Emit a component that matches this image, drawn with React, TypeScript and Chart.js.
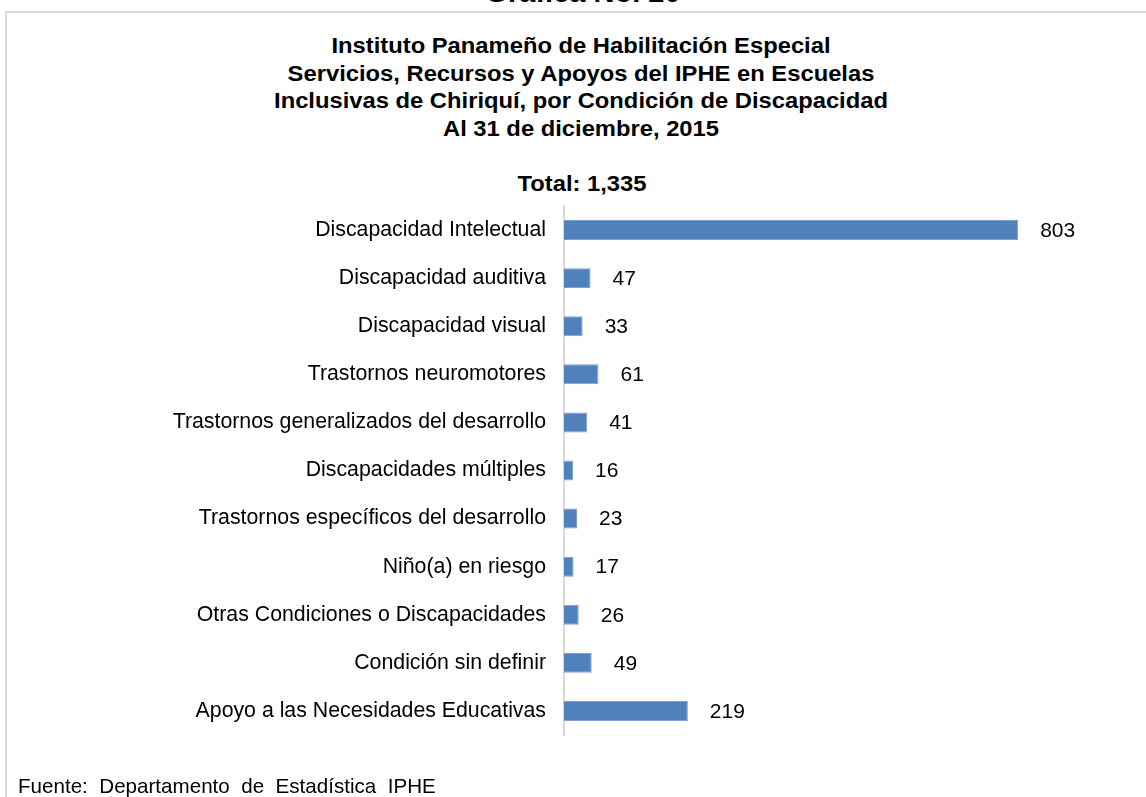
import React, { useEffect, useRef } from "react";
import { Chart, registerables } from "chart.js";
Chart.register(...registerables);

const header = "Gráfica No. 20";
const titleLines = [
  "Instituto Panameño de Habilitación Especial",
  "Servicios, Recursos y Apoyos del IPHE en Escuelas",
  "Inclusivas de Chiriquí, por Condición de Discapacidad",
  "Al 31 de diciembre, 2015",
];
const totalLabel = "Total: 1,335";
const sourceNote = "Fuente:  Departamento  de  Estadística  IPHE";

const categories = [
  "Discapacidad Intelectual",
  "Discapacidad auditiva",
  "Discapacidad visual",
  "Trastornos neuromotores",
  "Trastornos generalizados del desarrollo",
  "Discapacidades múltiples",
  "Trastornos específicos del desarrollo",
  "Niño(a) en riesgo",
  "Otras Condiciones o Discapacidades",
  "Condición sin definir",
  "Apoyo a las Necesidades Educativas",
];
const values = [803, 47, 33, 61, 41, 16, 23, 17, 26, 49, 219];
const xMin = 0;
const xMax = 900;

const FONT = "'Liberation Sans', Arial, sans-serif";

export default function App() {
  const ref = useRef<HTMLCanvasElement | null>(null);
  useEffect(() => {
    if (!ref.current) return;
    const valueLabels = {
      id: "valueLabels",
      afterDatasetsDraw(chart: any) {
        const ctx = chart.ctx;
        const meta = chart.getDatasetMeta(0);
        ctx.save();
        ctx.fillStyle = "#000";
        ctx.font = `21px ${FONT}`;
        ctx.textAlign = "left";
        ctx.textBaseline = "middle";
        meta.data.forEach((bar: any, i: number) => {
          ctx.fillText(String(chart.data.datasets[0].data[i]), bar.x + 22, bar.y + 1);
        });
        ctx.restore();
      },
    };
    const chart = new Chart(ref.current, {
      type: "bar",
      data: {
        labels: categories,
        datasets: [
          {
            data: values,
            backgroundColor: "#4f81bd",
            borderColor: "#7da0cf",
            borderWidth: 1,
            barPercentage: 0.415,
            categoryPercentage: 1,
          },
        ],
      },
      options: {
        indexAxis: "y",
        responsive: false,
        animation: false,
        layout: { padding: { top: 206, bottom: 62, left: 0, right: 73 } },
        plugins: { legend: { display: false }, tooltip: { enabled: false }, title: { display: false } },
        scales: {
          x: { display: false, min: xMin, max: xMax },
          y: {
            grid: { display: false, drawTicks: false },
            border: { color: "#d9d9d9", width: 2 },
            ticks: { color: "#000", font: { family: FONT, size: 21.3 }, padding: 18 },
            afterFit: (s: any) => {
              s.width = 564;
            },
          },
        },
      },
      plugins: [valueLabels],
    } as any);
    return () => chart.destroy();
  }, []);

  const titleStyle: React.CSSProperties = {
    whiteSpace: "nowrap",
    transform: "scaleX(1.08)",
    transformOrigin: "50% 50%",
  };

  return (
    <div style={{ position: "absolute", left: 0, top: 0, width: 1146, height: 797, overflow: "hidden", background: "#fff", fontFamily: FONT, color: "#000" }}>
      <div style={{ position: "absolute", left: 5, top: 11, width: 1300, height: 1000, border: "2px solid #d9d9d9" }} />
      <div style={{ position: "absolute", left: 383, width: 400, top: -25, textAlign: "center", fontWeight: "bold", fontSize: 29, lineHeight: "34px", whiteSpace: "nowrap" }}>{header}</div>
      <div style={{ position: "absolute", left: 0, width: 1162, top: 32, textAlign: "center", fontWeight: "bold", fontSize: 22, lineHeight: "27.5px" }}>
        {titleLines.map((l, i) => (
          <div key={i} style={titleStyle}>{l}</div>
        ))}
      </div>
      <div style={{ position: "absolute", left: 0, width: 1164, top: 170, textAlign: "center", fontWeight: "bold", fontSize: 22, lineHeight: "27px", ...titleStyle }}>{totalLabel}</div>
      <canvas ref={ref} width={1146} height={797} style={{ position: "absolute", left: 0, top: 0, width: 1146, height: 797 }} />
      <div style={{ position: "absolute", left: 18, top: 772, fontSize: 20.6, lineHeight: "27px", whiteSpace: "pre" }}>{sourceNote}</div>
    </div>
  );
}
